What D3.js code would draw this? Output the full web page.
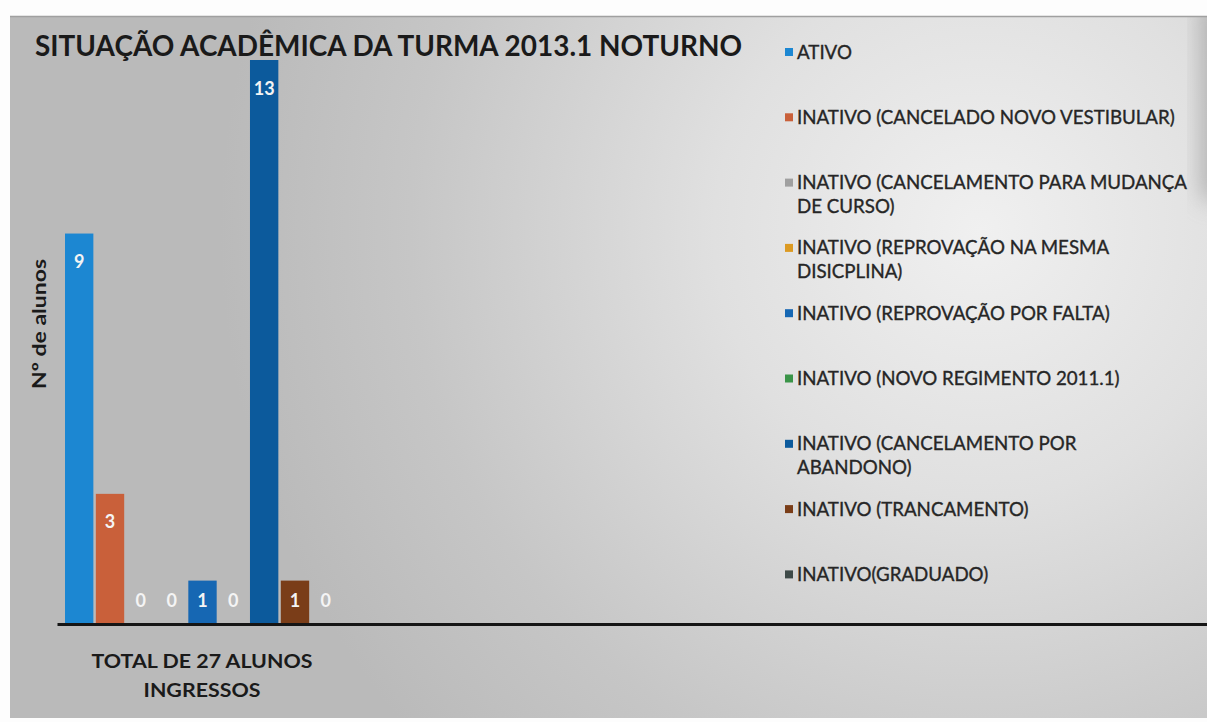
<!DOCTYPE html>
<html><head><meta charset="utf-8">
<script src="https://cdn.jsdelivr.net/npm/d3@7"></script>
<style>html,body{margin:0;padding:0;background:#fff;overflow:hidden}</style>
</head><body>
<svg id="c" width="1207" height="722"></svg>
<script>
const title = "SITUAÇÃO ACADÊMICA DA TURMA 2013.1 NOTURNO";
const yLabel = "Nº de alunos";
const category = ["TOTAL DE 27  ALUNOS", "INGRESSOS"];
const series = [
  "ATIVO",
  "INATIVO (CANCELADO NOVO VESTIBULAR)",
  "INATIVO (CANCELAMENTO PARA MUDANÇA DE CURSO)",
  "INATIVO (REPROVAÇÃO NA MESMA DISICPLINA)",
  "INATIVO (REPROVAÇÃO POR FALTA)",
  "INATIVO (NOVO REGIMENTO 2011.1)",
  "INATIVO (CANCELAMENTO POR ABANDONO)",
  "INATIVO (TRANCAMENTO)",
  "INATIVO(GRADUADO)"
];
const legendLines = [
  ["ATIVO"],
  ["INATIVO (CANCELADO NOVO VESTIBULAR)"],
  ["INATIVO (CANCELAMENTO PARA MUDANÇA", "DE CURSO)"],
  ["INATIVO (REPROVAÇÃO NA MESMA", "DISICPLINA)"],
  ["INATIVO (REPROVAÇÃO POR FALTA)"],
  ["INATIVO (NOVO REGIMENTO 2011.1)"],
  ["INATIVO (CANCELAMENTO POR", "ABANDONO)"],
  ["INATIVO (TRANCAMENTO)"],
  ["INATIVO(GRADUADO)"]
];
const values = [9, 3, 0, 0, 1, 0, 13, 1, 0];
const colors = ["#1c87d2", "#c9603a", "#a0a0a0", "#dc9a22", "#1667b3", "#3a9448", "#0c5a9c", "#7a3d18", "#3e4a48"];

const svg = d3.select("#c");
const defs = svg.append("defs");
const rg = defs.append("radialGradient").attr("id", "bg")
  .attr("gradientUnits", "userSpaceOnUse").attr("cx", 980).attr("cy", 230).attr("r", 760);
rg.append("stop").attr("offset", 0).attr("stop-color", "#f0f0f0");
rg.append("stop").attr("offset", 0.35).attr("stop-color", "#e0e0e0");
rg.append("stop").attr("offset", 0.75).attr("stop-color", "#c6c6c6");
rg.append("stop").attr("offset", 1).attr("stop-color", "#bababa");
defs.append("filter").attr("id", "blur").attr("x", "-50%").attr("y", "-50%").attr("width", "200%").attr("height", "200%")
  .append("feGaussianBlur").attr("stdDeviation", 12);
defs.append("clipPath").attr("id", "area")
  .append("rect").attr("x", 10).attr("y", 16).attr("width", 1197).attr("height", 702);

svg.append("rect").attr("width", 1207).attr("height", 722).attr("fill", "#fdfdfd");
const bgG = svg.append("g").attr("clip-path", "url(#area)");
bgG.append("rect").attr("x", 10).attr("y", 16).attr("width", 1197).attr("height", 702).attr("fill", "url(#bg)");
bgG.append("rect").attr("x", 1202).attr("y", 0).attr("width", 30).attr("height", 200)
  .attr("fill", "#8c8c8c").attr("opacity", 0.6).attr("filter", "url(#blur)");
svg.append("line").attr("x1", 10).attr("x2", 1207).attr("y1", 16.5).attr("y2", 16.5).attr("stroke", "#a0a0a0").attr("stroke-width", 1.5);

const base = 624;
const y = d3.scaleLinear().domain([0, 13]).range([base, 60]);
const x = d3.scaleBand().domain(series).range([65, 340]).paddingInner(0.08).paddingOuter(0);

svg.append("g").selectAll("rect").data(series).join("rect")
  .attr("x", d => x(d)).attr("width", x.bandwidth())
  .attr("y", (d, i) => y(values[i])).attr("height", (d, i) => base - y(values[i]))
  .attr("fill", (d, i) => colors[i]);

svg.append("g").selectAll("text").data(series).join("text")
  .attr("x", d => x(d) + x.bandwidth() / 2)
  .attr("y", (d, i) => Math.min(y(values[i]) + 28, 600) + 6.5)
  .attr("text-anchor", "middle")
  .attr("font-family", "Lato, 'Open Sans', sans-serif").attr("font-weight", 700).attr("font-size", 18)
  .attr("fill", "#f4f4f4")
  .text((d, i) => values[i]);

const xAxisScale = d3.scaleLinear().range([57, 1207]);
svg.append("g").attr("transform", `translate(0,${base})`)
  .call(d3.axisBottom(xAxisScale).tickValues([]).tickSizeOuter(0))
  .call(g => g.select(".domain").attr("stroke", "#151515").attr("stroke-width", 3));

function fitWidth(sel, target) {
  const w = sel.node().getComputedTextLength();
  sel.attr("textLength", target).attr("lengthAdjust", "spacingAndGlyphs");
  return target / w;
}

const t = svg.append("text").attr("x", 35).attr("y", 56)
  .attr("font-family", "Lato, sans-serif").attr("font-weight", 700).attr("font-size", 29)
  .attr("fill", "#1a1a1a").text(title);
fitWidth(t, 707);

const yl = svg.append("text").attr("transform", "translate(46,324) rotate(-90)")
  .attr("text-anchor", "middle")
  .attr("font-family", "Lato, sans-serif").attr("font-weight", 700).attr("font-size", 19)
  .attr("fill", "#1a1a1a").text(yLabel);
fitWidth(yl, 130);

const c1 = svg.append("text").attr("x", 202).attr("y", 668).attr("text-anchor", "middle")
  .attr("font-family", "Lato, sans-serif").attr("font-weight", 700).attr("font-size", 18.5)
  .attr("fill", "#1a1a1a").text(category[0]);
const k = fitWidth(c1, 221);
const c2 = svg.append("text").attr("x", 202).attr("y", 697).attr("text-anchor", "middle")
  .attr("font-family", "Lato, sans-serif").attr("font-weight", 700).attr("font-size", 18.5)
  .attr("fill", "#1a1a1a").text(category[1]);
c2.attr("textLength", c2.node().getComputedTextLength() * k).attr("lengthAdjust", "spacingAndGlyphs");

// legend: pick a font size so the reference line spans its measured width
const probe = svg.append("text").attr("font-family", "Lato, sans-serif").attr("font-size", 20).text(legendLines[1][0]);
const legendFs = 20 * 378 / probe.node().getComputedTextLength();
probe.remove();
const lg = svg.append("g");
const legendTop = 52, legendStep = 65.3, lineGap = 24;
legendLines.forEach((lines, i) => {
  const cy = legendTop + i * legendStep;
  lg.append("rect").attr("x", 785).attr("y", cy - 4).attr("width", 8).attr("height", 8).attr("fill", colors[i]);
  lines.forEach((ln, j) => {
    lg.append("text").attr("x", 797).attr("y", cy + j * lineGap + 6.5)
      .attr("font-family", "Lato, sans-serif").attr("font-weight", 400).attr("font-size", legendFs)
      .attr("fill", "#262626").attr("stroke", "#262626").attr("stroke-width", 0.35)
      .attr("data-series", series[i]).text(ln);
  });
});
</script>
</body></html>
